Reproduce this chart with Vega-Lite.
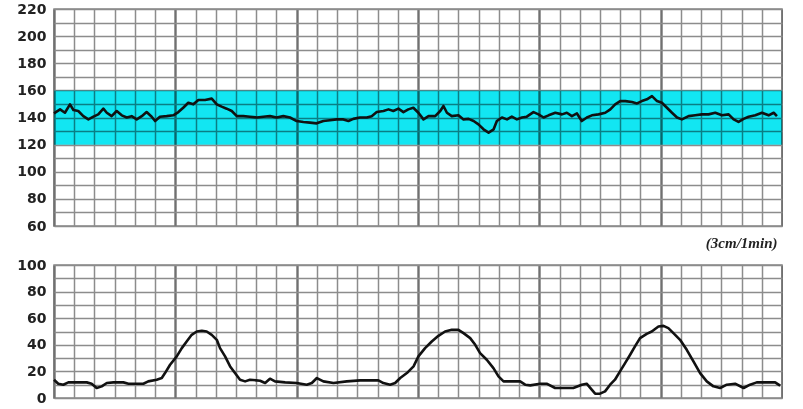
{
  "$schema": "https://vega.github.io/schema/vega-lite/v6.json",
  "background": "white",
  "padding": {"left": 16, "top": 1, "right": 0, "bottom": 0},
  "datasets": {
    "fhr": [
      {"t":0,"bpm":143},{"t":3,"bpm":146},{"t":5.4,"bpm":143.5},{"t":7.9,"bpm":149.7},{"t":9.6,"bpm":145.5},{"t":12,"bpm":144.8},{"t":14.5,"bpm":141},{"t":17,"bpm":138.6},{"t":19.5,"bpm":140.6},{"t":21.9,"bpm":142.3},{"t":24.4,"bpm":146.5},{"t":26.1,"bpm":143.5},{"t":28.5,"bpm":141},{"t":31,"bpm":144.8},{"t":33.5,"bpm":141.6},{"t":36,"bpm":140},{"t":38.4,"bpm":141},{"t":40.9,"bpm":138.6},{"t":43.4,"bpm":141},{"t":45.8,"bpm":144},{"t":48.3,"bpm":140.6},{"t":50,"bpm":137.4},{"t":52.4,"bpm":140.6},{"t":55.7,"bpm":141},{"t":59,"bpm":141.6},{"t":61.5,"bpm":144},{"t":63.9,"bpm":147.2},{"t":66.4,"bpm":150.9},{"t":68.9,"bpm":149.7},{"t":71.4,"bpm":152.9},{"t":74.7,"bpm":152.9},{"t":78,"bpm":153.9},{"t":80.5,"bpm":149.7},{"t":82.9,"bpm":148},{"t":85.4,"bpm":146.5},{"t":87.9,"bpm":144.8},{"t":90.4,"bpm":141},{"t":93.6,"bpm":141},{"t":96.9,"bpm":140.6},{"t":100.3,"bpm":140},{"t":103.5,"bpm":140.6},{"t":106.8,"bpm":141},{"t":110.1,"bpm":140},{"t":113.4,"bpm":141},{"t":116.7,"bpm":140},{"t":120,"bpm":137.4},{"t":123.3,"bpm":136.7},{"t":126.6,"bpm":136.2},{"t":129.9,"bpm":135.7},{"t":133.2,"bpm":137.4},{"t":136.5,"bpm":138},{"t":139.8,"bpm":138.6},{"t":143.1,"bpm":138.6},{"t":145.6,"bpm":137.4},{"t":148,"bpm":139},{"t":151.3,"bpm":140},{"t":154.7,"bpm":140},{"t":157.1,"bpm":141},{"t":159.6,"bpm":144},{"t":162.9,"bpm":144.8},{"t":165.4,"bpm":146},{"t":167.8,"bpm":144.8},{"t":170.3,"bpm":146.5},{"t":172.8,"bpm":144},{"t":175.2,"bpm":146},{"t":177.7,"bpm":147.2},{"t":180.2,"bpm":143.5},{"t":182.7,"bpm":138.6},{"t":185.2,"bpm":141},{"t":188.5,"bpm":141},{"t":191,"bpm":144.8},{"t":192.6,"bpm":148.5},{"t":194.3,"bpm":143.5},{"t":196.7,"bpm":141},{"t":200,"bpm":141.6},{"t":202.5,"bpm":138.6},{"t":205,"bpm":139},{"t":207.5,"bpm":137.4},{"t":209.9,"bpm":134.9},{"t":212.4,"bpm":131.3},{"t":214.9,"bpm":128.8},{"t":217.4,"bpm":131.3},{"t":219,"bpm":137.4},{"t":221.5,"bpm":140},{"t":224,"bpm":138.6},{"t":226.4,"bpm":140.6},{"t":228.9,"bpm":138.6},{"t":231.4,"bpm":140},{"t":233.8,"bpm":140.6},{"t":237.1,"bpm":144},{"t":239.6,"bpm":142.3},{"t":242.1,"bpm":140},{"t":244.6,"bpm":141.6},{"t":247.9,"bpm":143.5},{"t":251.2,"bpm":142.3},{"t":253.6,"bpm":143.5},{"t":256.1,"bpm":141},{"t":258.6,"bpm":143},{"t":261,"bpm":137.4},{"t":263.5,"bpm":140},{"t":266,"bpm":141.6},{"t":269.3,"bpm":142.3},{"t":272.6,"bpm":143.5},{"t":275.1,"bpm":146},{"t":277.5,"bpm":149.7},{"t":280,"bpm":152.1},{"t":282.5,"bpm":152.1},{"t":285.8,"bpm":151.4},{"t":288.3,"bpm":150.4},{"t":290.7,"bpm":152.1},{"t":293.2,"bpm":153.4},{"t":295.7,"bpm":155.8},{"t":298.2,"bpm":152.1},{"t":300.6,"bpm":150.9},{"t":303.1,"bpm":147.2},{"t":305.6,"bpm":143.5},{"t":308.1,"bpm":140},{"t":310.5,"bpm":138.6},{"t":313.8,"bpm":141},{"t":317.1,"bpm":141.6},{"t":320.4,"bpm":142.3},{"t":323.7,"bpm":142.3},{"t":327,"bpm":143.5},{"t":330.3,"bpm":141.6},{"t":333.6,"bpm":142.3},{"t":336.1,"bpm":138.6},{"t":338.5,"bpm":136.7},{"t":341,"bpm":139},{"t":343.5,"bpm":140.6},{"t":346.8,"bpm":141.6},{"t":350.1,"bpm":143.5},{"t":353.4,"bpm":141.6},{"t":355.9,"bpm":143.5},{"t":357.5,"bpm":141}
    ],
    "toco": [
      {"t":0,"ua":13.75},{"t":2.1,"ua":10.75},{"t":4.6,"ua":10},{"t":7.1,"ua":11.75},{"t":9.6,"ua":11.75},{"t":16.2,"ua":11.75},{"t":18.6,"ua":10.75},{"t":21.1,"ua":7.5},{"t":23.6,"ua":8.75},{"t":26.1,"ua":11.25},{"t":29.4,"ua":11.75},{"t":34.3,"ua":11.75},{"t":36.8,"ua":10.75},{"t":44.2,"ua":10.75},{"t":46.6,"ua":12.5},{"t":50.8,"ua":13.75},{"t":53.3,"ua":15},{"t":54.9,"ua":18.75},{"t":57.4,"ua":25},{"t":60.7,"ua":31.25},{"t":63.2,"ua":37.5},{"t":65.6,"ua":42.5},{"t":68.1,"ua":47.5},{"t":70.6,"ua":50},{"t":73.1,"ua":50.5},{"t":75.5,"ua":50},{"t":78,"ua":47.5},{"t":80.5,"ua":43.75},{"t":82.1,"ua":37.5},{"t":84.6,"ua":31.25},{"t":87.1,"ua":23.75},{"t":89.5,"ua":18.75},{"t":92,"ua":13.75},{"t":94.5,"ua":12.5},{"t":96.9,"ua":13.75},{"t":101.9,"ua":13},{"t":104.4,"ua":11.25},{"t":106.8,"ua":14.5},{"t":109.3,"ua":12.5},{"t":114.3,"ua":11.75},{"t":120,"ua":11.25},{"t":125,"ua":10},{"t":127.5,"ua":11.25},{"t":130,"ua":15},{"t":133.2,"ua":12.5},{"t":138.2,"ua":11.25},{"t":144.8,"ua":12.5},{"t":151.4,"ua":13.25},{"t":156.3,"ua":13.25},{"t":160.4,"ua":13.25},{"t":162.9,"ua":11.25},{"t":166.2,"ua":10},{"t":168.7,"ua":11.25},{"t":171.2,"ua":15},{"t":174.5,"ua":18.75},{"t":177.8,"ua":23.75},{"t":180.2,"ua":31.25},{"t":183.5,"ua":37.5},{"t":186.8,"ua":42.5},{"t":190.1,"ua":46.75},{"t":193.4,"ua":50},{"t":196.7,"ua":51.25},{"t":200,"ua":51.25},{"t":202.5,"ua":48.75},{"t":205.8,"ua":45},{"t":208.3,"ua":40},{"t":210.7,"ua":33.75},{"t":214,"ua":28.75},{"t":217.3,"ua":22.5},{"t":219.8,"ua":16.25},{"t":222.3,"ua":12.5},{"t":227.2,"ua":12.5},{"t":230.5,"ua":12.5},{"t":233,"ua":10},{"t":235.5,"ua":9.5},{"t":240.4,"ua":10.75},{"t":243.6,"ua":10.75},{"t":247.8,"ua":7.5},{"t":251.9,"ua":7.5},{"t":256.8,"ua":7.5},{"t":261,"ua":10},{"t":263.4,"ua":10.75},{"t":265.9,"ua":6.25},{"t":267.6,"ua":3.25},{"t":270,"ua":3.25},{"t":272.5,"ua":5},{"t":275,"ua":10},{"t":277.4,"ua":13.75},{"t":279.9,"ua":20},{"t":282.4,"ua":26.25},{"t":284.9,"ua":32.5},{"t":287.3,"ua":38.75},{"t":289.8,"ua":45},{"t":293.1,"ua":48.25},{"t":295.6,"ua":50},{"t":298.9,"ua":53.75},{"t":301.4,"ua":54.25},{"t":303.8,"ua":52.5},{"t":306.3,"ua":48.75},{"t":309.6,"ua":43.75},{"t":312.9,"ua":36.25},{"t":316.2,"ua":27.5},{"t":319.5,"ua":18.75},{"t":322.8,"ua":12.5},{"t":326.1,"ua":8.75},{"t":329.4,"ua":7.5},{"t":332.7,"ua":10},{"t":336.8,"ua":10.75},{"t":341,"ua":7.5},{"t":344.2,"ua":10},{"t":347.5,"ua":11.75},{"t":352.5,"ua":11.75},{"t":356.6,"ua":11.75},{"t":359.1,"ua":9.25}
    ],
    "band": [{"lo":120,"hi":160}]
  },
  "spacing": 6,
  "vconcat": [
    {
      "width": 728,
      "height": 217,
      "layer": [
        {
          "data": {"name": "band"},
          "mark": {"type": "rect", "color": "#12e6f2", "blend": "multiply"},
          "encoding": {
            "y": {"field": "lo", "type": "quantitative", "scale": {"domain": [60, 220], "nice": false, "zero": false},
                  "axis": {"values": [60,70,80,90,100,110,120,130,140,150,160,170,180,190,200,210,220], "labelExpr": "datum.value % 20 === 0 ? datum.label : ''", "title": null}},
            "y2": {"field": "hi"}
          }
        },
        {
          "data": {"name": "fhr"},
          "mark": {"type": "line", "color": "#111111", "strokeWidth": 2.6, "strokeJoin": "round"},
          "encoding": {
            "x": {"field": "t", "type": "quantitative", "scale": {"domain": [0, 360], "nice": false},
                  "axis": {"values": [0,10,20,30,40,50,60,70,80,90,100,110,120,130,140,150,160,170,180,190,200,210,220,230,240,250,260,270,280,290,300,310,320,330,340,350,360],
                           "labels": false, "title": "(3cm/1min)", "titleAnchor": "end", "titleAlign": "right", "titleX": 723,
                           "titleFont": "Liberation Serif", "titleFontStyle": "italic", "titleFontWeight": "bold", "titleFontSize": 15, "titleColor": "#222222", "titlePadding": 9}},
            "y": {"field": "bpm", "type": "quantitative", "scale": {"domain": [60, 220], "nice": false, "zero": false},
                  "axis": {"values": [60,70,80,90,100,110,120,130,140,150,160,170,180,190,200,210,220], "labelExpr": "datum.value % 20 === 0 ? datum.label : ''", "title": null}}
          }
        }
      ]
    },
    {
      "width": 728,
      "height": 133,
      "data": {"name": "toco"},
      "mark": {"type": "line", "color": "#111111", "strokeWidth": 2.6, "strokeJoin": "round"},
      "encoding": {
        "x": {"field": "t", "type": "quantitative", "scale": {"domain": [0, 360], "nice": false},
              "axis": {"values": [0,10,20,30,40,50,60,70,80,90,100,110,120,130,140,150,160,170,180,190,200,210,220,230,240,250,260,270,280,290,300,310,320,330,340,350,360], "labels": false, "title": null}},
        "y": {"field": "ua", "type": "quantitative", "scale": {"domain": [0, 100], "nice": false},
              "axis": {"values": [0,10,20,30,40,50,60,70,80,90,100], "labelExpr": "datum.value % 20 === 0 ? datum.label : ''", "title": null}}
      }
    }
  ],
  "config": {
    "view": {"stroke": "#888888", "strokeWidth": 1.5},
    "axis": {
      "grid": true,
      "gridColor": "#8c8c8c",
      "gridWidth": 1.5,
      "ticks": false,
      "domain": false,
      "labelOverlap": false,
      "labelFont": "DejaVu Sans",
      "labelFontWeight": "bold",
      "labelFontSize": 14,
      "labelColor": "#222222",
      "labelPadding": 8
    },
    "axisX": {
      "gridColor": {"condition": {"test": "datum.value % 60 === 0", "value": "#707070"}, "value": "#8c8c8c"},
      "gridWidth": {"condition": {"test": "datum.value % 60 === 0", "value": 2.4}, "value": 1.5}
    }
  }
}
